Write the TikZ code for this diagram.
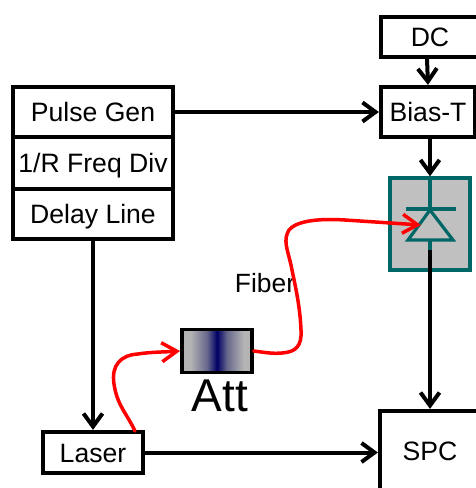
\documentclass[tikz,border=0pt]{standalone}
\usepackage{fontspec}
\setmainfont{Liberation Sans}
\usetikzlibrary{arrows.meta}
\definecolor{diodeteal}{HTML}{006666}
\definecolor{diodegray}{HTML}{C0C0C0}
\definecolor{attgray}{HTML}{B4B4B4}
\definecolor{attmid}{HTML}{66668C}
\definecolor{attnavy}{HTML}{000066}
\pgfdeclarehorizontalshading{attshade}{100bp}{color(0bp)=(attgray); color(31bp)=(attgray); color(43bp)=(attmid); color(50bp)=(attnavy); color(57bp)=(attmid); color(69bp)=(attgray); color(100bp)=(attgray)}
\pgfdeclarearrow{
  name=VTip,
  parameters={\the\pgfarrowlength,\the\pgfarrowwidth,\the\pgflinewidth},
  setup code={%
    \pgfarrowssettipend{0pt}%
    \pgfarrowssetlineend{-6pt}%
    \pgfarrowssavethe\pgfarrowlength
    \pgfarrowssavethe\pgfarrowwidth
    \pgfarrowssavethe\pgflinewidth
    \pgfarrowshullpoint{0pt}{0pt}%
    \pgfarrowshullpoint{-\pgfarrowlength}{.5\pgfarrowwidth}%
    \pgfarrowshullpoint{-\pgfarrowlength}{-.5\pgfarrowwidth}%
  },
  drawing code={%
    \pgfsetdash{}{0pt}%
    \pgfsetlinewidth{\pgflinewidth}%
    \pgfsetmiterjoin
    \pgfsetbuttcap
    \pgfpathmoveto{\pgfpoint{-\pgfarrowlength-3.5pt}{.5\pgfarrowwidth}}%
    \pgfpathlineto{\pgfpoint{-3.5pt}{0pt}}%
    \pgfpathlineto{\pgfpoint{-\pgfarrowlength-3.5pt}{-.5\pgfarrowwidth}}%
    \pgfusepathqstroke
  },
  defaults={length=14pt,width=18pt}
}
\tikzset{
  box/.style={draw=black,line width=4pt,fill=white,inner sep=0pt,font=\fontsize{26.6}{26.6}\selectfont,text=black,text height=19pt,text depth=0pt},
  conn/.style={draw=black,line width=4pt,-{VTip[length=13pt,width=19pt]}},
  fib/.style={draw=red,line width=3.5pt,line cap=round},
  fibarrow/.style={fib,-{VTip[length=15pt,width=19pt]}},
  teal/.style={draw=diodeteal,line width=3.2pt},
}
\begin{document}
\begin{tikzpicture}[x=1pt,y=-1pt]
\useasboundingbox (0,0) rectangle (476,488);
% boxes
\node[box,minimum width=98pt,minimum height=39.5pt] (dc) at (430,37) {DC};
\node[box,minimum width=94pt,minimum height=50pt] (bias) at (428,112) {Bias-T};
\node[box,minimum width=160pt,minimum height=50pt] (pulse) at (93,112) {Pulse Gen};
\node[box,minimum width=160pt,minimum height=52pt] (div) at (93,163) {1/R Freq Div};
\node[box,minimum width=160pt,minimum height=50pt] (delay) at (93,214) {Delay Line};
\node[box,minimum width=100pt,minimum height=41pt] (laser) at (93,452.5) {Laser};
\node[box,minimum width=100pt,minimum height=80pt] (spc) at (430,451) {SPC};
% detector
\node[teal,fill=diodegray,minimum width=80pt,minimum height=92pt,inner sep=0pt] (det) at (430,224) {};
\coordinate (apex) at (430,210);
\coordinate (basel) at (408,240);
\coordinate (baser) at (453,240);
\coordinate (barl) at (406,209);
\coordinate (barr) at (456,209);
\coordinate (tail) at (430,250);
\draw[teal] (det.north) -- (apex);
\draw[teal] (barl) -- (barr);
\draw[teal,line join=miter] (apex) -- (basel) -- (baser) -- cycle;
\draw[teal] (430,240) -- (tail);
% attenuator
\node[draw=black,line width=3.5pt,shading=attshade,minimum width=70pt,minimum height=43pt,inner sep=0pt] (att) at (217,351) {};
\node[font=\fontsize{46}{46}\selectfont,inner sep=0pt] (attlabel) at (220,396) {Att};
\node[font=\fontsize{26.4}{26.4}\selectfont,inner sep=0pt] (fiber) at (265,283) {Fiber};
% connectors
\draw[conn] ([xshift=-3pt]dc.south) -- (bias.north);
\draw[conn] ([xshift=2pt]bias.south) -- (det.north);
\draw[conn] (pulse.east) -- (bias.west);
\draw[conn] (delay.south) -- (laser.north);
\draw[conn] (laser.east) -- (laser.east -| spc.west);
\draw[conn] (tail) -- (spc.north);
% fibers
\coordinate (lasertap) at (135,431);
\coordinate (dettip) at (421,225);
\draw[fibarrow] (lasertap) .. controls (127,414) and (117,405) .. (114,384)
   .. controls (111,365) and (121,355) .. (138,354)
   .. controls (150,352) and (165,352) .. (att.west);
\draw[fib] (att.east) .. controls (262,352) and (272,354) .. (282,353)
   .. controls (296,352) and (302,346) .. (301,330)
   .. controls (300,305) and (295,285) .. (291,265)
   .. controls (287,248) and (283,240) .. (289,230)
   .. controls (295,222) and (315,218) .. (345,220);
\draw[fibarrow] (345,220) -- (dettip);
\end{tikzpicture}
\end{document}
